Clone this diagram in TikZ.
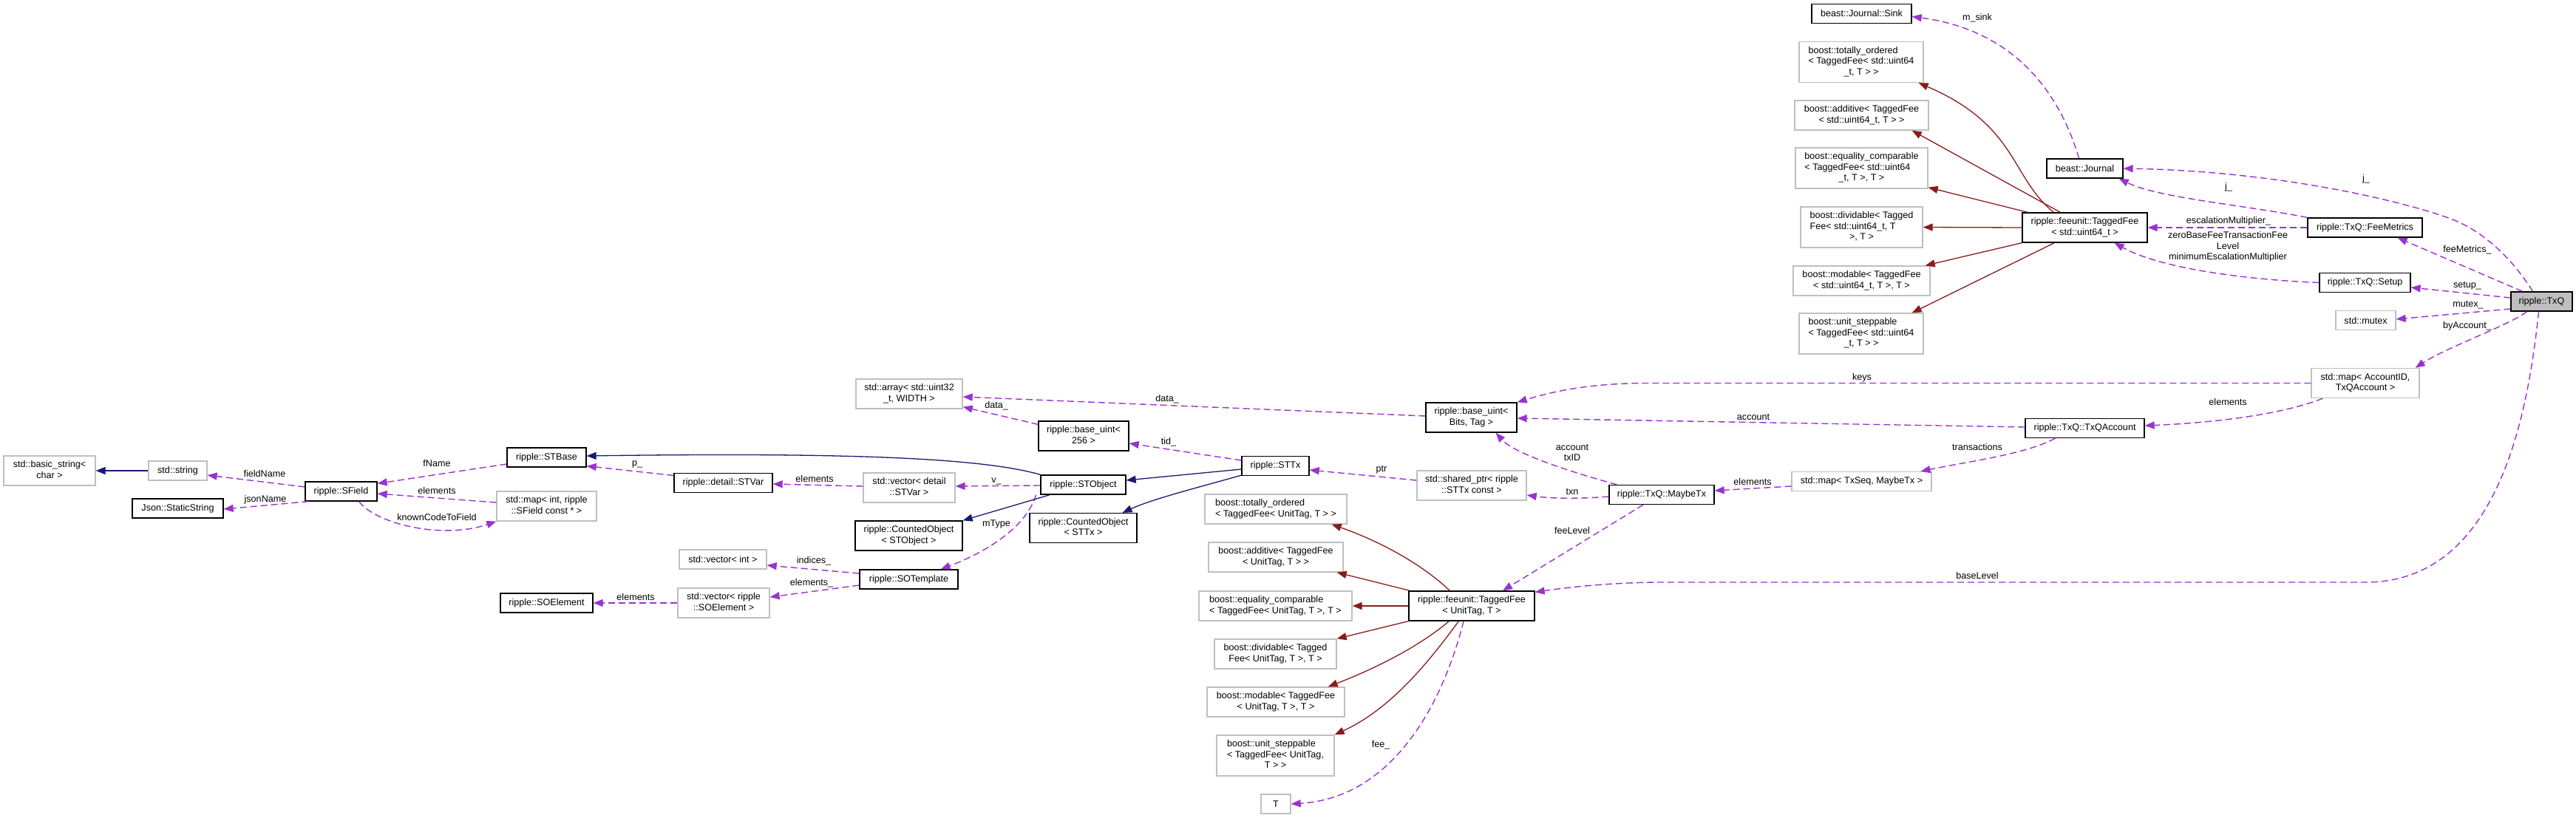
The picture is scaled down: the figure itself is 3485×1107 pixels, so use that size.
\documentclass[tikz,border=0pt]{standalone}
\usepackage{fontspec}
\setmainfont{Liberation Sans}
\usetikzlibrary{arrows.meta,calc}
\definecolor{dpurple}{HTML}{9A32CD}
\definecolor{dnavy}{HTML}{191970}
\definecolor{dred}{HTML}{8B1A1A}
\definecolor{dgrey}{HTML}{BFBFBF}
\newcommand\lab{\fontsize{12.6}{14.5}\selectfont}
\newcommand\mlab[2]{\begin{tabular}{@{}l@{}}#1\\\multicolumn{1}{@{}c@{}}{#2}\end{tabular}}
\tikzset{
  docbox/.style={draw=black, line width=1.3pt, inner sep=0pt, font=\lab, fill=white},
  extbox/.style={docbox, draw=dgrey},
  sz/.style 2 args={minimum width=#1pt, minimum height=#2pt},
  lbl/.style={font=\lab, inner sep=0pt},
  assoc/.style={draw=dpurple, line width=1.4pt, dash pattern=on 9pt off 5pt, -{Triangle[length=13pt,width=10pt]}},
  inher/.style={draw=dnavy, line width=1.3pt, -{Triangle[length=13pt,width=10pt]}},
  tmpl/.style={draw=dred, line width=1.3pt, -{Triangle[length=13pt,width=10pt]}},
}
\begin{document}
\begin{tikzpicture}[x=1pt,y=-1pt]
\useasboundingbox (0,0) rectangle (3485,1107);
% nodes
\node[extbox, sz={124}{40}] (bs) at (67,637) {\mlab{std::basic\_string<}{char >}};
\node[extbox, sz={79}{26}] (str) at (240.5,637) {std::string};
\node[docbox, sz={123}{26}] (json) at (240.5,688) {Json::StaticString};
\node[docbox, sz={97}{26}] (sfield) at (461.5,665) {ripple::SField};
\node[docbox, sz={107}{26}] (stbase) at (739.5,619) {ripple::STBase};
\node[extbox, sz={135}{40}] (mapint) at (739.5,685) {\mlab{std::map< int, ripple}{::SField const * >}};
\node[docbox, sz={125}{26}] (soelem) at (739.5,816) {ripple::SOElement};
\node[docbox, sz={133}{26}] (stvar) at (978.5,653.5) {ripple::detail::STVar};
\node[extbox, sz={118}{26}] (vecint) at (978,757) {std::vector< int >};
\node[extbox, sz={124}{40}] (vecsoel) at (979,816) {\mlab{std::vector< ripple}{::SOElement >}};
\node[extbox, sz={144}{40}] (arr) at (1230,533) {\mlab{std::array< std::uint32}{\_t, WIDTH >}};
\node[extbox, sz={124}{40}] (vecstvar) at (1230,660) {\mlab{std::vector< detail}{::STVar >}};
\node[docbox, sz={145}{40}] (costo) at (1229.5,725) {\mlab{ripple::CountedObject}{< STObject >}};
\node[docbox, sz={133}{26}] (sotempl) at (1229.5,784) {ripple::SOTemplate};
\node[docbox, sz={122}{40}] (bu256) at (1466,590) {\mlab{ripple::base\_uint<}{256 >}};
\node[docbox, sz={115}{26}] (stobject) at (1465.5,656) {ripple::STObject};
\node[docbox, sz={145}{40}] (costtx) at (1465.5,714.5) {\mlab{ripple::CountedObject}{< STTx >}};
\node[docbox, sz={91}{26}] (sttx) at (1725.5,630.5) {ripple::STTx};
\node[extbox, sz={192}{40}] (tou) at (1726,689) {\mlab{boost::totally\_ordered}{< TaggedFee< UnitTag, T > >}};
\node[extbox, sz={182}{40}] (adu) at (1726,754) {\mlab{boost::additive< TaggedFee}{< UnitTag, T > >}};
\node[extbox, sz={207}{40}] (equ) at (1725.5,820) {\mlab{boost::equality\_comparable}{< TaggedFee< UnitTag, T >, T >}};
\node[extbox, sz={165}{40}] (dvu) at (1725.5,885) {\mlab{boost::dividable< Tagged}{Fee< UnitTag, T >, T >}};
\node[extbox, sz={186}{40}] (mdu) at (1726,950) {\mlab{boost::modable< TaggedFee}{< UnitTag, T >, T >}};
\node[extbox, sz={159}{55}] (usu) at (1725.5,1022.5) {\mlab{boost::unit\_steppable\\< TaggedFee< UnitTag,}{T > >}};
\node[extbox, sz={40}{26}] (T) at (1726,1088) {T};
\node[docbox, sz={123}{40}] (bubits) at (1990.5,565) {\mlab{ripple::base\_uint<}{Bits, Tag >}};
\node[extbox, sz={148}{40}] (shptr) at (1991,657) {\mlab{std::shared\_ptr< ripple}{::STTx const >}};
\node[docbox, sz={170}{40}] (tfu) at (1991,820) {\mlab{ripple::feeunit::TaggedFee}{< UnitTag, T >}};
\node[docbox, sz={142}{26}] (maybetx) at (2248,669.5) {ripple::TxQ::MaybeTx};
\node[extbox, sz={189}{26}] (mapseq) at (2518.5,651.5) {std::map< TxSeq, MaybeTx >};
\node[docbox, sz={135}{26}] (sink) at (2518.5,18.5) {beast::Journal::Sink};
\node[extbox, sz={168}{55}] (to64) at (2518,84) {\mlab{boost::totally\_ordered\\< TaggedFee< std::uint64}{\_t, T > >}};
\node[extbox, sz={181}{40}] (ad64) at (2518.5,156) {\mlab{boost::additive< TaggedFee}{< std::uint64\_t, T > >}};
\node[extbox, sz={179}{55}] (eq64) at (2518.5,227.5) {\mlab{boost::equality\_comparable\\< TaggedFee< std::uint64}{\_t, T >, T >}};
\node[extbox, sz={165}{55}] (dv64) at (2518.5,307.5) {\mlab{boost::dividable< Tagged\\Fee< std::uint64\_t, T}{>, T >}};
\node[extbox, sz={185}{40}] (md64) at (2518.5,380) {\mlab{boost::modable< TaggedFee}{< std::uint64\_t, T >, T >}};
\node[extbox, sz={168}{55}] (us64) at (2518,451.5) {\mlab{boost::unit\_steppable\\< TaggedFee< std::uint64}{\_t, T > >}};
\node[docbox, sz={103}{26}] (journal) at (2820.5,228) {beast::Journal};
\node[docbox, sz={169}{40}] (tf64) at (2820.5,308) {\mlab{ripple::feeunit::TaggedFee}{< std::uint64\_t >}};
\node[docbox, sz={161}{26}] (txqacc) at (2820.5,579.5) {ripple::TxQ::TxQAccount};
\node[docbox, sz={155}{26}] (feem) at (3199.5,308) {ripple::TxQ::FeeMetrics};
\node[docbox, sz={123}{26}] (setup) at (3199.5,382.5) {ripple::TxQ::Setup};
\node[extbox, sz={81}{26}] (mutex) at (3200.5,433.5) {std::mutex};
\node[extbox, sz={146}{40}] (mapacc) at (3200,518.5) {\mlab{std::map< AccountID,}{TxQAccount >}};
\node[docbox, sz={83}{26}, fill=dgrey] (txq) at (3438.5,408) {ripple::TxQ};

% purple usage edges
\draw[assoc] ($(journal.north)+(-8,0)$) .. controls (2785,120) and (2720,40) .. ($(sink.east)+(0,4)$);
\node[lbl] (lmsink) at (2675,24) {m\_sink};
\draw[assoc] ($(txq.north)+(-12,0)$) .. controls (3405,360) and (3370,320) .. (3325,300) .. controls (3280,280) and (3100,232) .. (journal.east);
\node[lbl] (lj1) at (3201,242) {j\_};
\draw[assoc] (feem.north west) .. controls (3040,278) and (2920,268) .. ($(journal.south east)+(-6,0)$);
\node[lbl] (lj2) at (3015,253) {j\_};
\draw[assoc] (feem.west) -- (tf64.east);
\node[lbl] (lesc) at (3015,299) {escalationMultiplier\_};
\draw[assoc] (setup.west) .. controls (3030,378) and (2920,362) .. ($(tf64.south)+(40,0)$);
\node[lbl, align=center] (lzero) at (3014,334) {zeroBaseFeeTransactionFee\\Level\\minimumEscalationMultiplier};
\draw[assoc] ($(txq.north)+(-26,0)$) -- ($(feem.south)+(44,0)$);
\node[lbl] (lfm) at (3338,338) {feeMetrics\_};
\draw[assoc] ($(txq.west)+(0,-5)$) -- ($(setup.east)+(0,6.5)$);
\node[lbl] (lsetup) at (3338,387) {setup\_};
\draw[assoc] ($(txq.west)+(0,10)$) -- ($(mutex.east)+(0,-1.5)$);
\node[lbl] (lmutex) at (3339,413) {mutex\_};
\draw[assoc] ($(txq.south)+(-20,0)$) .. controls (3395,440) and (3310,470) .. ($(mapacc.north east)+(-6,0)$);
\node[lbl] (lbyacc) at (3338,441) {byAccount\_};
\draw[assoc] ($(txq.south)+(-4,0)$) .. controls (3420,560) and (3380,788) .. (3200,788) -- (2250,788) .. controls (2180,788) and (2120,795) .. ($(tfu.north east)+(0,2)$);
\node[lbl] (lbase) at (2675,779) {baseLevel};
\draw[assoc] (mapacc.west) -- (2230,518.5) .. controls (2150,518.5) and (2100,530) .. (bubits.north east);
\node[lbl] (lkeys) at (2519,511) {keys};
\draw[assoc] ($(mapacc.south west)+(16,0)$) .. controls (3090,560) and (3000,572) .. ($(txqacc.east)+(0,-3.5)$);
\node[lbl] (lel1) at (3014,544) {elements};
\draw[assoc] ($(txqacc.west)+(0,-1.5)$) -- ($(bubits.east)+(0,1)$);
\node[lbl] (lacc) at (2372,564) {account};
\draw[assoc] ($(txqacc.south)+(-40,0)$) .. controls (2740,615) and (2660,625) .. ($(mapseq.north)+(80,0)$);
\node[lbl] (ltrans) at (2675,605) {transactions};
\draw[assoc] ($(mapseq.west)+(0,6.5)$) -- ($(maybetx.east)+(0,-5.5)$);
\node[lbl] (lel2) at (2371,652) {elements};
\draw[assoc] ($(maybetx.north west)+(11,0)$) .. controls (2130,640) and (2050,615) .. ($(bubits.south)+(33,0)$);
\node[lbl, align=center] (lacctx) at (2127,612.5) {account\\txID};
\draw[assoc] ($(maybetx.west)+(0,2.5)$) .. controls (2140,675) and (2100,675) .. ($(shptr.east)+(0,13)$);
\node[lbl] (ltxn) at (2127,665) {txn};
\draw[assoc] ($(shptr.west)+(0,-7)$) -- ($(sttx.east)+(0,5.5)$);
\node[lbl] (lptr) at (1869,636) {ptr};
\draw[assoc] ($(maybetx.south)+(-25,0)$) -- ($(tfu.north)+(42,0)$);
\node[lbl] (lfeelev) at (2127,718) {feeLevel};
\draw[assoc] ($(tfu.south)+(-11,0)$) .. controls (1950,960) and (1880,1080) .. (T.east);
\node[lbl] (lfee) at (1868,1008) {fee\_};
\draw[assoc] ($(bubits.west)+(0,-2)$) -- ($(arr.east)+(0,4)$);
\node[lbl] (ldata1) at (1579,540) {data\_};
\draw[assoc] ($(bu256.north west)+(0,5)$) -- ($(arr.south east)+(0,-3)$);
\node[lbl] (ldata2) at (1348,549) {data\_};
\draw[assoc] ($(sttx.west)+(0,-7.5)$) -- ($(bu256.east)+(0,10)$);
\node[lbl] (ltid) at (1581,598) {tid\_};
\draw[assoc] ($(stobject.west)+(0,1)$) -- ($(vecstvar.east)+(0,-2)$);
\node[lbl] (lv) at (1348,651) {v\_};
\draw[assoc] ($(vecstvar.west)+(0,-2)$) -- ($(stvar.east)+(0,1.5)$);
\node[lbl] (lel3) at (1102,648) {elements};
\draw[assoc] ($(stvar.west)+(0,-10)$) -- ($(stbase.south east)+(0,-2)$);
\node[lbl] (lp) at (862,628) {p\_};
\draw[assoc] ($(stobject.south)+(-64,0)$) .. controls (1390,710) and (1340,745) .. ($(sotempl.north east)+(-24,0)$);
\node[lbl] (lmtype) at (1348,709) {mType};
\draw[assoc] ($(sotempl.west)+(0,-8)$) -- ($(vecint.east)+(0,8)$);
\node[lbl] (lind) at (1101,759) {indices\_};
\draw[assoc] ($(sotempl.west)+(0,8)$) -- ($(vecsoel.east)+(0,-8)$);
\node[lbl] (lel4) at (1098,789) {elements\_};
\draw[assoc] (vecsoel.west) -- (soelem.east);
\node[lbl] (lel5) at (860,808) {elements};
\draw[assoc] ($(stbase.west)+(0,9)$) -- ($(sfield.north east)+(0,3)$);
\node[lbl] (lfname) at (591,627) {fName};
\draw[assoc] ($(mapint.west)+(0,-5)$) -- ($(sfield.east)+(0,3)$);
\node[lbl] (lel6) at (591,664) {elements};
\draw[assoc] ($(sfield.south)+(24,0)$) .. controls (510,710) and (600,730) .. (mapint.south west);
\node[lbl] (lknown) at (591,700) {knownCodeToField};
\draw[assoc] ($(sfield.west)+(0,-6)$) -- ($(str.east)+(0,6)$);
\node[lbl] (lfieldn) at (358,641) {fieldName};
\draw[assoc] ($(sfield.south west)+(5,0)$) -- ($(json.east)+(0,1)$);
\node[lbl] (ljsonn) at (359,676) {jsonName};

% navy inheritance edges
\draw[inher] (str.west) -- (bs.east);
\draw[inher] (stobject.north west) .. controls (1330,620) and (1150,612) .. ($(stbase.east)+(0,-2)$);
\draw[inher] ($(sttx.west)+(0,4.5)$) -- ($(stobject.east)+(0,-6)$);
\draw[inher] ($(sttx.south west)+(0,-1)$) .. controls (1620,660) and (1560,675) .. ($(costtx.north)+(53,0)$);
\draw[inher] ($(stobject.south west)+(13,0)$) -- (costo.north east);

% red template edges
\draw[tmpl] ($(tf64.north west)+(43,0)$) .. controls (2720,240) and (2730,170) .. ($(to64.south east)+(-7,0)$);
\draw[tmpl] ($(tf64.north west)+(52,0)$) -- ($(ad64.south east)+(-23,0)$);
\draw[tmpl] ($(tf64.north west)+(8,0)$) -- ($(eq64.south east)+(0,-2)$);
\draw[tmpl] (tf64.west) -- (dv64.east);
\draw[tmpl] (tf64.south west) -- ($(md64.north east)+(-7,0)$);
\draw[tmpl] ($(tf64.south west)+(44,0)$) -- ($(us64.north east)+(-16,0)$);
\draw[tmpl] ($(tfu.north west)+(56,0)$) .. controls (1920,760) and (1860,730) .. ($(tou.south east)+(-21,0)$);
\draw[tmpl] ($(tfu.north west)+(2,0)$) -- ($(adu.south east)+(-9,0)$);
\draw[tmpl] (tfu.west) -- (equ.east);
\draw[tmpl] (tfu.south west) -- (dvu.north east);
\draw[tmpl] ($(tfu.south west)+(55,0)$) .. controls (1920,875) and (1860,905) .. ($(mdu.north east)+(-23,0)$);
\draw[tmpl] ($(tfu.south west)+(68,0)$) .. controls (1930,900) and (1880,960) .. (usu.north east);
\end{tikzpicture}
\end{document}
